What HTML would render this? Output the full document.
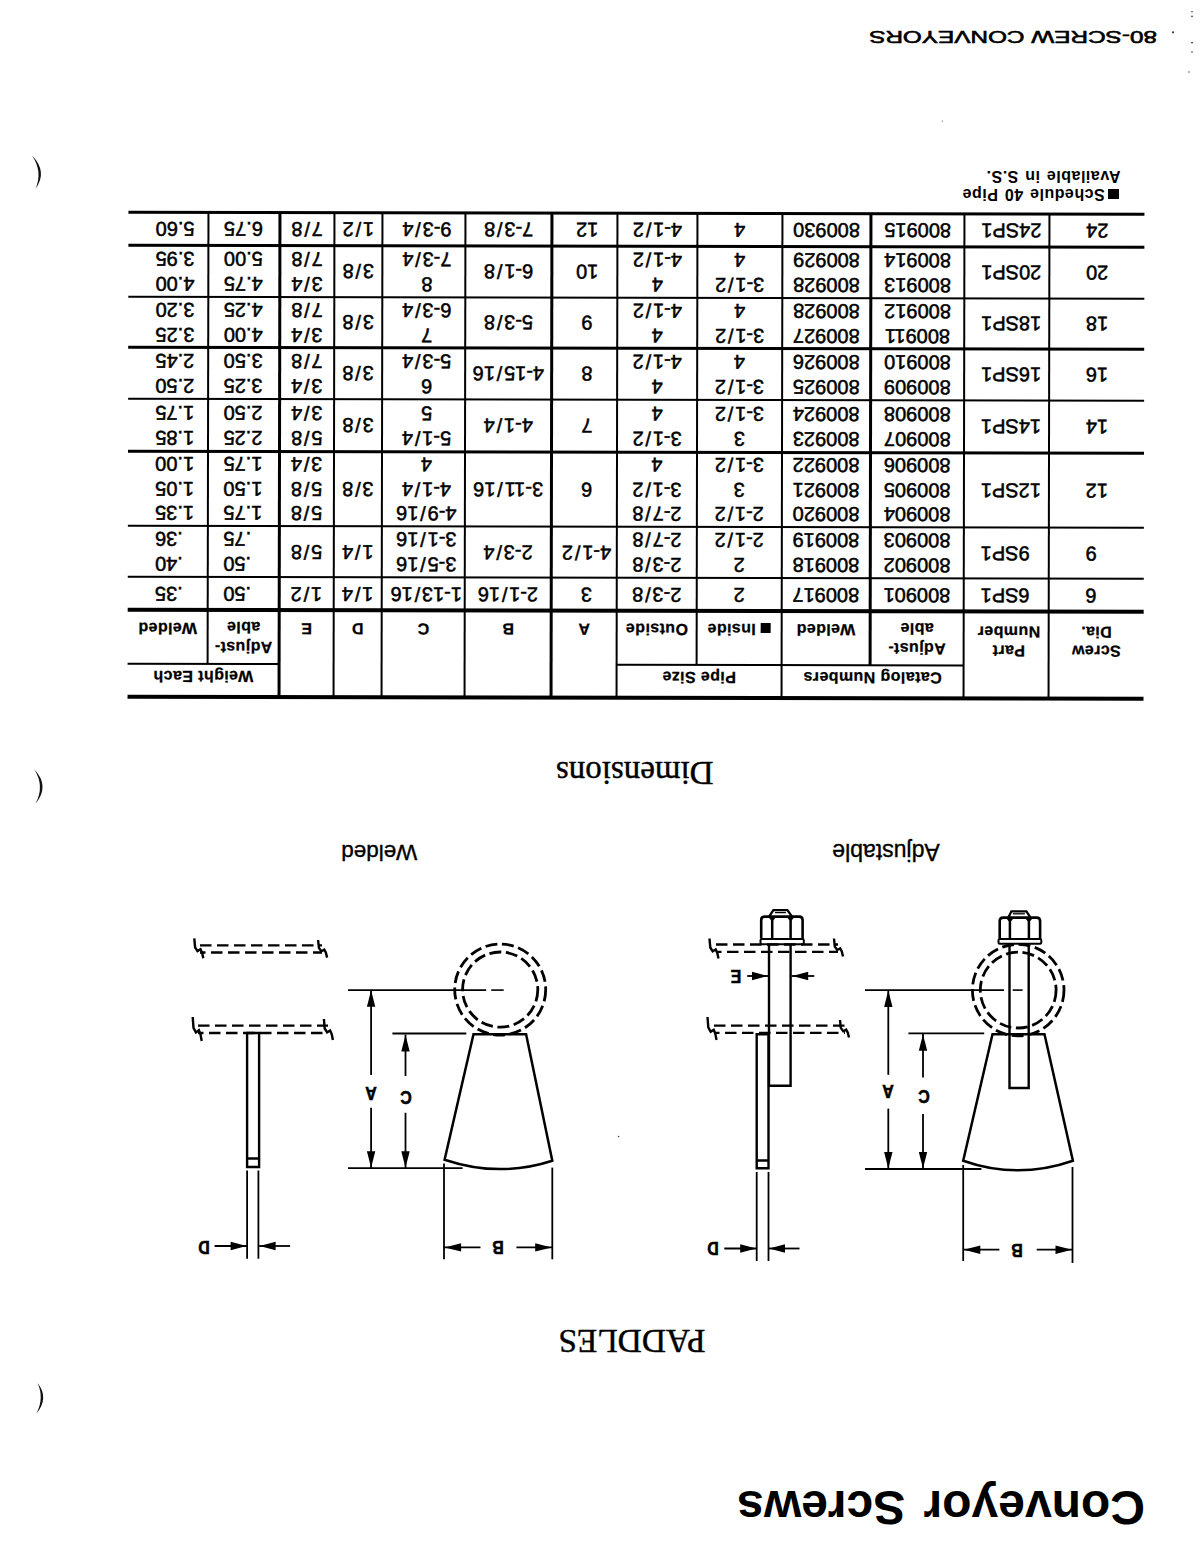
<!DOCTYPE html>
<html><head><meta charset="utf-8"><title>Conveyor Screws</title><style>
*{margin:0;padding:0;box-sizing:border-box}
html,body{width:1204px;height:1561px;overflow:hidden;background:#fff}
#page{position:absolute;left:0;top:0;width:1204px;height:1561px;transform:rotate(180deg);transform-origin:602px 780.5px;background:#fff;color:#000;font-family:"Liberation Sans",sans-serif}
#tbl{position:absolute;left:0;top:0;width:1204px;height:1561px;transform:translateY(1.2px) rotate(0.11deg);transform-origin:568px 1104px}
.ln{position:absolute;background:#000}
.c{position:absolute;display:flex;align-items:center;justify-content:center;text-align:center}
.c.d{font-size:20px;line-height:24.5px;-webkit-text-stroke:0.5px #000}
.c.h{font-weight:bold;font-size:16px;line-height:19.5px;letter-spacing:0.4px;-webkit-text-stroke:0.25px #000}
.c.hg{align-items:flex-start;padding-top:11px}
.c.hs{align-items:flex-start;padding-top:38px}
.c.hc{align-items:flex-start;padding-top:26px}
.c.hc2{align-items:flex-start;padding-top:7.5px}
.sq{display:inline-block;width:10px;height:10px;background:#000;margin-right:5px;vertical-align:-1px}
.t{position:absolute;white-space:nowrap}
.sb{font-weight:bold}
.se{font-family:"Liberation Serif",serif}
.sr{font-weight:normal;-webkit-text-stroke:0.35px #000}
.note{letter-spacing:0.5px;word-spacing:1.5px}
.sq2{display:inline-block;width:11px;height:10.5px;background:#000;margin-right:3.5px;vertical-align:-0.5px}
.foot{transform:scaleX(1.52);transform-origin:0 0;-webkit-text-stroke:0.55px #000}
#drw{position:absolute;left:0;top:0}
.sl{font-weight:normal;margin:0 1.8px}
.thk{-webkit-text-stroke:0.4px #000}
.dl{transform:scaleX(0.86);-webkit-text-stroke:0.6px #000}
</style></head>
<body><div id="page">
<div id="tbl"><div class="ln" style="left:60.0px;top:860.20px;width:1016.3px;height:3.4px"></div>
<div class="ln" style="left:240.1px;top:893.80px;width:346.8px;height:2.2px"></div>
<div class="ln" style="left:924.5px;top:893.80px;width:151.8px;height:2.2px"></div>
<div class="ln" style="left:60.0px;top:947.45px;width:1016.3px;height:3.7px"></div>
<div class="ln" style="left:60.0px;top:980.95px;width:1016.3px;height:2.3px"></div>
<div class="ln" style="left:60.0px;top:1031.85px;width:1016.3px;height:2.3px"></div>
<div class="ln" style="left:60.0px;top:1106.45px;width:1016.3px;height:2.3px"></div>
<div class="ln" style="left:60.0px;top:1159.15px;width:1016.3px;height:2.3px"></div>
<div class="ln" style="left:60.0px;top:1210.35px;width:1016.3px;height:2.3px"></div>
<div class="ln" style="left:60.0px;top:1260.85px;width:1016.3px;height:2.3px"></div>
<div class="ln" style="left:60.0px;top:1312.45px;width:1016.3px;height:2.3px"></div>
<div class="ln" style="left:60.0px;top:1345.00px;width:1016.3px;height:3.4px"></div>
<div class="ln" style="left:153.65px;top:861.9px;width:2.3px;height:484.8px"></div>
<div class="ln" style="left:238.95px;top:861.9px;width:2.3px;height:484.8px"></div>
<div class="ln" style="left:421.15px;top:861.9px;width:2.3px;height:484.8px"></div>
<div class="ln" style="left:585.75px;top:861.9px;width:2.3px;height:484.8px"></div>
<div class="ln" style="left:651.45px;top:861.9px;width:2.3px;height:484.8px"></div>
<div class="ln" style="left:737.85px;top:861.9px;width:2.3px;height:484.8px"></div>
<div class="ln" style="left:820.85px;top:861.9px;width:2.3px;height:484.8px"></div>
<div class="ln" style="left:869.05px;top:861.9px;width:2.3px;height:484.8px"></div>
<div class="ln" style="left:923.35px;top:861.9px;width:2.3px;height:484.8px"></div>
<div class="ln" style="left:332.35px;top:894.9px;width:2.3px;height:451.8px"></div>
<div class="ln" style="left:505.85px;top:894.9px;width:2.3px;height:451.8px"></div>
<div class="ln" style="left:994.85px;top:894.9px;width:2.3px;height:451.8px"></div>
<div class="c h hg" style="left:240.1px;top:861.9px;width:182.2px;height:33.0px;"><span>Catalog Numbers</span></div>
<div class="c h hg" style="left:422.3px;top:861.9px;width:164.6px;height:33.0px;"><span>Pipe Size</span></div>
<div class="c h hg" style="left:924.5px;top:861.9px;width:151.8px;height:33.0px;"><span>Weight Each</span></div>
<div class="c h hs" style="left:60.0px;top:861.9px;width:94.8px;height:87.4px;"><span>Screw<br>Dia.</span></div>
<div class="c h hs" style="left:154.8px;top:861.9px;width:85.3px;height:87.4px;padding-right:5px"><span>Part<br>Number</span></div>
<div class="c h hc2" style="left:240.1px;top:894.9px;width:93.4px;height:54.4px;"><span>Adjust-<br>able</span></div>
<div class="c h hc" style="left:333.5px;top:894.9px;width:88.8px;height:54.4px;"><span>Welded</span></div>
<div class="c h hc" style="left:422.3px;top:894.9px;width:84.7px;height:54.4px;"><span><i class="sq"></i>Inside</span></div>
<div class="c h hc" style="left:507.0px;top:894.9px;width:79.9px;height:54.4px;"><span>Outside</span></div>
<div class="c h hc" style="left:586.9px;top:894.9px;width:65.7px;height:54.4px;"><span>A</span></div>
<div class="c h hc" style="left:652.6px;top:894.9px;width:86.4px;height:54.4px;"><span>B</span></div>
<div class="c h hc" style="left:739.0px;top:894.9px;width:83.0px;height:54.4px;"><span>C</span></div>
<div class="c h hc" style="left:822.0px;top:894.9px;width:48.2px;height:54.4px;"><span>D</span></div>
<div class="c h hc" style="left:870.2px;top:894.9px;width:54.3px;height:54.4px;"><span>E</span></div>
<div class="c h hc2" style="left:924.5px;top:894.9px;width:71.5px;height:54.4px;"><span>Adjust-<br>able</span></div>
<div class="c h hc" style="left:996.0px;top:894.9px;width:80.3px;height:54.4px;"><span>Welded</span></div>
<div class="c d" style="left:60.0px;top:949.3px;width:94.8px;height:32.8px;justify-content:flex-end;padding-right:36.5px"><span>6</span></div>
<div class="c d" style="left:154.8px;top:949.3px;width:85.3px;height:32.8px;justify-content:flex-end;padding-right:17px"><span>6SP1</span></div>
<div class="c d" style="left:240.1px;top:949.3px;width:93.4px;height:32.8px;"><span>800901</span></div>
<div class="c d" style="left:333.5px;top:949.3px;width:88.8px;height:32.8px;"><span>800917</span></div>
<div class="c d" style="left:422.3px;top:949.3px;width:84.7px;height:32.8px;"><span>2</span></div>
<div class="c d" style="left:507.0px;top:949.3px;width:79.9px;height:32.8px;"><span>2-3<b class="sl">/</b>8</span></div>
<div class="c d" style="left:586.9px;top:949.3px;width:65.7px;height:32.8px;padding-right:5px"><span>3</span></div>
<div class="c d" style="left:652.6px;top:949.3px;width:86.4px;height:32.8px;"><span>2-1<b class="sl">/</b>16</span></div>
<div class="c d" style="left:739.0px;top:949.3px;width:83.0px;height:32.8px;padding-right:6px"><span>1-13<b class="sl">/</b>16</span></div>
<div class="c d" style="left:822.0px;top:949.3px;width:48.2px;height:32.8px;"><span>1<b class="sl">/</b>4</span></div>
<div class="c d" style="left:870.2px;top:949.3px;width:54.3px;height:32.8px;"><span>1<b class="sl">/</b>2</span></div>
<div class="c d" style="left:924.5px;top:949.3px;width:71.5px;height:32.8px;justify-content:flex-end;padding-right:15.5px"><span>.50</span></div>
<div class="c d" style="left:996.0px;top:949.3px;width:80.3px;height:32.8px;justify-content:flex-end;padding-right:27.5px"><span>.35</span></div>
<div class="c d" style="left:60.0px;top:982.1px;width:94.8px;height:50.9px;justify-content:flex-end;padding-right:36.5px"><span>9</span></div>
<div class="c d" style="left:154.8px;top:982.1px;width:85.3px;height:50.9px;justify-content:flex-end;padding-right:17px"><span>9SP1</span></div>
<div class="c d" style="left:240.1px;top:982.1px;width:93.4px;height:50.9px;"><span>800902<br>800903</span></div>
<div class="c d" style="left:333.5px;top:982.1px;width:88.8px;height:50.9px;"><span>800918<br>800919</span></div>
<div class="c d" style="left:422.3px;top:982.1px;width:84.7px;height:50.9px;"><span>2<br>2-1<b class="sl">/</b>2</span></div>
<div class="c d" style="left:507.0px;top:982.1px;width:79.9px;height:50.9px;"><span>2-3<b class="sl">/</b>8<br>2-7<b class="sl">/</b>8</span></div>
<div class="c d" style="left:586.9px;top:982.1px;width:65.7px;height:50.9px;padding-right:5px"><span>4-1<b class="sl">/</b>2</span></div>
<div class="c d" style="left:652.6px;top:982.1px;width:86.4px;height:50.9px;"><span>2-3<b class="sl">/</b>4</span></div>
<div class="c d" style="left:739.0px;top:982.1px;width:83.0px;height:50.9px;padding-right:6px"><span>3-5<b class="sl">/</b>16<br>3-1<b class="sl">/</b>16</span></div>
<div class="c d" style="left:822.0px;top:982.1px;width:48.2px;height:50.9px;"><span>1<b class="sl">/</b>4</span></div>
<div class="c d" style="left:870.2px;top:982.1px;width:54.3px;height:50.9px;"><span>5<b class="sl">/</b>8</span></div>
<div class="c d" style="left:924.5px;top:982.1px;width:71.5px;height:50.9px;justify-content:flex-end;padding-right:15.5px"><span>.50<br>.75</span></div>
<div class="c d" style="left:996.0px;top:982.1px;width:80.3px;height:50.9px;justify-content:flex-end;padding-right:27.5px"><span>.40<br>.36</span></div>
<div class="c d" style="left:60.0px;top:1033.0px;width:94.8px;height:74.6px;justify-content:flex-end;padding-right:36.5px"><span>12</span></div>
<div class="c d" style="left:154.8px;top:1033.0px;width:85.3px;height:74.6px;justify-content:flex-end;padding-right:17px"><span>12SP1</span></div>
<div class="c d" style="left:240.1px;top:1033.0px;width:93.4px;height:74.6px;"><span>800904<br>800905<br>800906</span></div>
<div class="c d" style="left:333.5px;top:1033.0px;width:88.8px;height:74.6px;"><span>800920<br>800921<br>800922</span></div>
<div class="c d" style="left:422.3px;top:1033.0px;width:84.7px;height:74.6px;"><span>2-1<b class="sl">/</b>2<br>3<br>3-1<b class="sl">/</b>2</span></div>
<div class="c d" style="left:507.0px;top:1033.0px;width:79.9px;height:74.6px;"><span>2-7<b class="sl">/</b>8<br>3-1<b class="sl">/</b>2<br>4</span></div>
<div class="c d" style="left:586.9px;top:1033.0px;width:65.7px;height:74.6px;padding-right:5px"><span>6</span></div>
<div class="c d" style="left:652.6px;top:1033.0px;width:86.4px;height:74.6px;"><span>3-11<b class="sl">/</b>16</span></div>
<div class="c d" style="left:739.0px;top:1033.0px;width:83.0px;height:74.6px;padding-right:6px"><span>4-9<b class="sl">/</b>16<br>4-1<b class="sl">/</b>4<br>4</span></div>
<div class="c d" style="left:822.0px;top:1033.0px;width:48.2px;height:74.6px;"><span>3<b class="sl">/</b>8</span></div>
<div class="c d" style="left:870.2px;top:1033.0px;width:54.3px;height:74.6px;"><span>5<b class="sl">/</b>8<br>5<b class="sl">/</b>8<br>3<b class="sl">/</b>4</span></div>
<div class="c d" style="left:924.5px;top:1033.0px;width:71.5px;height:74.6px;justify-content:flex-end;padding-right:15.5px"><span>1.75<br>1.50<br>1.75</span></div>
<div class="c d" style="left:996.0px;top:1033.0px;width:80.3px;height:74.6px;justify-content:flex-end;padding-right:27.5px"><span>1.35<br>1.05<br>1.00</span></div>
<div class="c d" style="left:60.0px;top:1107.6px;width:94.8px;height:52.7px;justify-content:flex-end;padding-right:36.5px"><span>14</span></div>
<div class="c d" style="left:154.8px;top:1107.6px;width:85.3px;height:52.7px;justify-content:flex-end;padding-right:17px"><span>14SP1</span></div>
<div class="c d" style="left:240.1px;top:1107.6px;width:93.4px;height:52.7px;"><span>800907<br>800908</span></div>
<div class="c d" style="left:333.5px;top:1107.6px;width:88.8px;height:52.7px;"><span>800923<br>800924</span></div>
<div class="c d" style="left:422.3px;top:1107.6px;width:84.7px;height:52.7px;"><span>3<br>3-1<b class="sl">/</b>2</span></div>
<div class="c d" style="left:507.0px;top:1107.6px;width:79.9px;height:52.7px;"><span>3-1<b class="sl">/</b>2<br>4</span></div>
<div class="c d" style="left:586.9px;top:1107.6px;width:65.7px;height:52.7px;padding-right:5px"><span>7</span></div>
<div class="c d" style="left:652.6px;top:1107.6px;width:86.4px;height:52.7px;"><span>4-1<b class="sl">/</b>4</span></div>
<div class="c d" style="left:739.0px;top:1107.6px;width:83.0px;height:52.7px;padding-right:6px"><span>5-1<b class="sl">/</b>4<br>5</span></div>
<div class="c d" style="left:822.0px;top:1107.6px;width:48.2px;height:52.7px;"><span>3<b class="sl">/</b>8</span></div>
<div class="c d" style="left:870.2px;top:1107.6px;width:54.3px;height:52.7px;"><span>5<b class="sl">/</b>8<br>3<b class="sl">/</b>4</span></div>
<div class="c d" style="left:924.5px;top:1107.6px;width:71.5px;height:52.7px;justify-content:flex-end;padding-right:15.5px"><span>2.25<br>2.50</span></div>
<div class="c d" style="left:996.0px;top:1107.6px;width:80.3px;height:52.7px;justify-content:flex-end;padding-right:27.5px"><span>1.85<br>1.75</span></div>
<div class="c d" style="left:60.0px;top:1160.3px;width:94.8px;height:51.2px;justify-content:flex-end;padding-right:36.5px"><span>16</span></div>
<div class="c d" style="left:154.8px;top:1160.3px;width:85.3px;height:51.2px;justify-content:flex-end;padding-right:17px"><span>16SP1</span></div>
<div class="c d" style="left:240.1px;top:1160.3px;width:93.4px;height:51.2px;"><span>800909<br>800910</span></div>
<div class="c d" style="left:333.5px;top:1160.3px;width:88.8px;height:51.2px;"><span>800925<br>800926</span></div>
<div class="c d" style="left:422.3px;top:1160.3px;width:84.7px;height:51.2px;"><span>3-1<b class="sl">/</b>2<br>4</span></div>
<div class="c d" style="left:507.0px;top:1160.3px;width:79.9px;height:51.2px;"><span>4<br>4-1<b class="sl">/</b>2</span></div>
<div class="c d" style="left:586.9px;top:1160.3px;width:65.7px;height:51.2px;padding-right:5px"><span>8</span></div>
<div class="c d" style="left:652.6px;top:1160.3px;width:86.4px;height:51.2px;"><span>4-15<b class="sl">/</b>16</span></div>
<div class="c d" style="left:739.0px;top:1160.3px;width:83.0px;height:51.2px;padding-right:6px"><span>6<br>5-3<b class="sl">/</b>4</span></div>
<div class="c d" style="left:822.0px;top:1160.3px;width:48.2px;height:51.2px;"><span>3<b class="sl">/</b>8</span></div>
<div class="c d" style="left:870.2px;top:1160.3px;width:54.3px;height:51.2px;"><span>3<b class="sl">/</b>4<br>7<b class="sl">/</b>8</span></div>
<div class="c d" style="left:924.5px;top:1160.3px;width:71.5px;height:51.2px;justify-content:flex-end;padding-right:15.5px"><span>3.25<br>3.50</span></div>
<div class="c d" style="left:996.0px;top:1160.3px;width:80.3px;height:51.2px;justify-content:flex-end;padding-right:27.5px"><span>2.50<br>2.45</span></div>
<div class="c d" style="left:60.0px;top:1211.5px;width:94.8px;height:50.5px;justify-content:flex-end;padding-right:36.5px"><span>18</span></div>
<div class="c d" style="left:154.8px;top:1211.5px;width:85.3px;height:50.5px;justify-content:flex-end;padding-right:17px"><span>18SP1</span></div>
<div class="c d" style="left:240.1px;top:1211.5px;width:93.4px;height:50.5px;"><span>800911<br>800912</span></div>
<div class="c d" style="left:333.5px;top:1211.5px;width:88.8px;height:50.5px;"><span>800927<br>800928</span></div>
<div class="c d" style="left:422.3px;top:1211.5px;width:84.7px;height:50.5px;"><span>3-1<b class="sl">/</b>2<br>4</span></div>
<div class="c d" style="left:507.0px;top:1211.5px;width:79.9px;height:50.5px;"><span>4<br>4-1<b class="sl">/</b>2</span></div>
<div class="c d" style="left:586.9px;top:1211.5px;width:65.7px;height:50.5px;padding-right:5px"><span>9</span></div>
<div class="c d" style="left:652.6px;top:1211.5px;width:86.4px;height:50.5px;"><span>5-3<b class="sl">/</b>8</span></div>
<div class="c d" style="left:739.0px;top:1211.5px;width:83.0px;height:50.5px;padding-right:6px"><span>7<br>6-3<b class="sl">/</b>4</span></div>
<div class="c d" style="left:822.0px;top:1211.5px;width:48.2px;height:50.5px;"><span>3<b class="sl">/</b>8</span></div>
<div class="c d" style="left:870.2px;top:1211.5px;width:54.3px;height:50.5px;"><span>3<b class="sl">/</b>4<br>7<b class="sl">/</b>8</span></div>
<div class="c d" style="left:924.5px;top:1211.5px;width:71.5px;height:50.5px;justify-content:flex-end;padding-right:15.5px"><span>4.00<br>4.25</span></div>
<div class="c d" style="left:996.0px;top:1211.5px;width:80.3px;height:50.5px;justify-content:flex-end;padding-right:27.5px"><span>3.25<br>3.20</span></div>
<div class="c d" style="left:60.0px;top:1262.0px;width:94.8px;height:51.6px;justify-content:flex-end;padding-right:36.5px"><span>20</span></div>
<div class="c d" style="left:154.8px;top:1262.0px;width:85.3px;height:51.6px;justify-content:flex-end;padding-right:17px"><span>20SP1</span></div>
<div class="c d" style="left:240.1px;top:1262.0px;width:93.4px;height:51.6px;"><span>800913<br>800914</span></div>
<div class="c d" style="left:333.5px;top:1262.0px;width:88.8px;height:51.6px;"><span>800928<br>800929</span></div>
<div class="c d" style="left:422.3px;top:1262.0px;width:84.7px;height:51.6px;"><span>3-1<b class="sl">/</b>2<br>4</span></div>
<div class="c d" style="left:507.0px;top:1262.0px;width:79.9px;height:51.6px;"><span>4<br>4-1<b class="sl">/</b>2</span></div>
<div class="c d" style="left:586.9px;top:1262.0px;width:65.7px;height:51.6px;padding-right:5px"><span>10</span></div>
<div class="c d" style="left:652.6px;top:1262.0px;width:86.4px;height:51.6px;"><span>6-1<b class="sl">/</b>8</span></div>
<div class="c d" style="left:739.0px;top:1262.0px;width:83.0px;height:51.6px;padding-right:6px"><span>8<br>7-3<b class="sl">/</b>4</span></div>
<div class="c d" style="left:822.0px;top:1262.0px;width:48.2px;height:51.6px;"><span>3<b class="sl">/</b>8</span></div>
<div class="c d" style="left:870.2px;top:1262.0px;width:54.3px;height:51.6px;"><span>3<b class="sl">/</b>4<br>7<b class="sl">/</b>8</span></div>
<div class="c d" style="left:924.5px;top:1262.0px;width:71.5px;height:51.6px;justify-content:flex-end;padding-right:15.5px"><span>4.75<br>5.00</span></div>
<div class="c d" style="left:996.0px;top:1262.0px;width:80.3px;height:51.6px;justify-content:flex-end;padding-right:27.5px"><span>4.00<br>3.95</span></div>
<div class="c d" style="left:60.0px;top:1313.6px;width:94.8px;height:33.1px;justify-content:flex-end;padding-right:36.5px"><span>24</span></div>
<div class="c d" style="left:154.8px;top:1313.6px;width:85.3px;height:33.1px;justify-content:flex-end;padding-right:17px"><span>24SP1</span></div>
<div class="c d" style="left:240.1px;top:1313.6px;width:93.4px;height:33.1px;"><span>800915</span></div>
<div class="c d" style="left:333.5px;top:1313.6px;width:88.8px;height:33.1px;"><span>800930</span></div>
<div class="c d" style="left:422.3px;top:1313.6px;width:84.7px;height:33.1px;"><span>4</span></div>
<div class="c d" style="left:507.0px;top:1313.6px;width:79.9px;height:33.1px;"><span>4-1<b class="sl">/</b>2</span></div>
<div class="c d" style="left:586.9px;top:1313.6px;width:65.7px;height:33.1px;padding-right:5px"><span>12</span></div>
<div class="c d" style="left:652.6px;top:1313.6px;width:86.4px;height:33.1px;"><span>7-3<b class="sl">/</b>8</span></div>
<div class="c d" style="left:739.0px;top:1313.6px;width:83.0px;height:33.1px;padding-right:6px"><span>9-3<b class="sl">/</b>4</span></div>
<div class="c d" style="left:822.0px;top:1313.6px;width:48.2px;height:33.1px;"><span>1<b class="sl">/</b>2</span></div>
<div class="c d" style="left:870.2px;top:1313.6px;width:54.3px;height:33.1px;"><span>7<b class="sl">/</b>8</span></div>
<div class="c d" style="left:924.5px;top:1313.6px;width:71.5px;height:33.1px;justify-content:flex-end;padding-right:15.5px"><span>6.75</span></div>
<div class="c d" style="left:996.0px;top:1313.6px;width:80.3px;height:33.1px;justify-content:flex-end;padding-right:27.5px"><span>5.60</span></div></div><div class="t sb" style="left:59.0px;top:30.3px;width:600px;font-size:48px;line-height:48px;text-align:left;word-spacing:5px;">Conveyor Screws</div><div class="t se thk" style="left:372.1px;top:203.4px;width:400px;font-size:33.4px;line-height:33.4px;text-align:center;">PADDLES</div><div class="t sr" style="left:118.0px;top:697.5px;width:400px;font-size:23px;line-height:23px;text-align:center;">Adjustable</div><div class="t sr" style="left:624.8px;top:698.3px;width:400px;font-size:22.5px;line-height:22.5px;text-align:center;">Welded</div><div class="t se thk" style="left:369.3px;top:772.4px;width:400px;font-size:33px;line-height:33px;text-align:center;">Dimensions</div><div class="t sb note" style="left:84.8px;top:1358.5px;width:300px;font-size:16px;line-height:16px;text-align:left;"><i class="sq2"></i>Schedule 40 Pipe</div><div class="t sb note" style="left:83.4px;top:1376.9px;width:300px;font-size:16px;line-height:16px;text-align:left;">Available in S.S.</div><div class="t foot" style="left:47.2px;top:1516.9px;width:300px;font-size:16px;line-height:16px;text-align:left;">80-SCREW CONVEYORS</div><svg id="drw" width="1204" height="1561" viewBox="0 0 1204 1561" stroke="#000"><g transform="rotate(180 602.0 780.5)"><circle cx="1018.2" cy="990.1" r="45.8" fill="none" stroke-width="2.8" stroke-dasharray="12 4.6"/>
<circle cx="1018.2" cy="990.1" r="37.9" fill="none" stroke-width="2.8" stroke-dasharray="12 4.6"/>
<path d="M1009.5,944.8 V1088 H1028.7 V944.8" fill="none" stroke-width="2.4"/>
<rect x="998.5" y="939.0" width="42.799999999999955" height="4.699999999999977" fill="none" stroke-width="2" rx="1.2"/>
<path d="M999.7,938.4 V921.1 Q999.7,917.6 1003.2,917.6 H1036.6 Q1040.1,917.6 1040.1,921.1 V938.4" fill="none" stroke-width="2.6"/>
<path d="M1009.9,938.4 V917.4 M1028.9,938.4 V917.4" fill="none" stroke-width="2.5"/>
<path d="M1005.9,917.9 H1013.9 L1009.9,922.4 Z" fill="#000" stroke="none"/>
<path d="M1024.9,917.9 H1032.9 L1028.9,922.4 Z" fill="#000" stroke="none"/>
<path d="M1008.4,917.4 L1011.4,911.3000000000001 H1026.4 L1030.4,917.4" fill="none" stroke-width="2.3"/>
<path d="M1012.9,913.8000000000001 H1024.9" fill="none" stroke-width="1.3"/>
<path d="M992.5,1034.3 H1044.5 L1072.9,1160.7 Q1017.5,1180 963.2,1160.7 Z" fill="none" stroke-width="2.5"/>
<line x1="865.0" y1="990.1" x2="1004.0" y2="990.1" stroke-width="1.6" />
<line x1="1012.7" y1="990.1" x2="1022.6" y2="990.1" stroke-width="1.6" />
<line x1="908.4" y1="1033.3" x2="984.2" y2="1033.3" stroke-width="1.8" />
<line x1="865.0" y1="1169.0" x2="981.4" y2="1169.0" stroke-width="1.8" />
<line x1="888.3" y1="990.1" x2="888.3" y2="1074.8" stroke-width="1.8" />
<line x1="888.3" y1="1108.6" x2="888.3" y2="1169.0" stroke-width="1.8" />
<polygon points="888.3,990.6 892.5,1007.1 884.1,1007.1" fill="#000" stroke="none"/>
<polygon points="888.3,1168.5 884.1,1152.0 892.5,1152.0" fill="#000" stroke="none"/>
<line x1="923.0" y1="1033.8" x2="923.0" y2="1077.6" stroke-width="1.8" />
<line x1="923.0" y1="1114.0" x2="923.0" y2="1169.0" stroke-width="1.8" />
<polygon points="923.0,1034.3 927.2,1050.8 918.8,1050.8" fill="#000" stroke="none"/>
<polygon points="923.0,1168.5 918.8,1152.0 927.2,1152.0" fill="#000" stroke="none"/>
<line x1="963.2" y1="1165.0" x2="963.2" y2="1261.0" stroke-width="1.8" />
<line x1="1072.5" y1="1167.0" x2="1072.5" y2="1263.0" stroke-width="1.8" />
<line x1="963.2" y1="1249.7" x2="999.4" y2="1249.7" stroke-width="1.8" />
<line x1="1036.7" y1="1249.7" x2="1072.5" y2="1249.7" stroke-width="1.8" />
<polygon points="963.8,1249.7 980.3,1245.5 980.3,1253.9" fill="#000" stroke="none"/>
<polygon points="1072.0,1249.7 1055.5,1253.9 1055.5,1245.5" fill="#000" stroke="none"/>
<rect x="760.5" y="939.0" width="43.299999999999955" height="5.199999999999977" fill="none" stroke-width="2" rx="1.2"/>
<path d="M761.2,938.4 V920.1 Q761.2,916.6 764.7,916.6 H799.0999999999999 Q802.5999999999999,916.6 802.5999999999999,920.1 V938.4" fill="none" stroke-width="2.6"/>
<path d="M772.2,938.4 V916.4 M790.6,938.4 V916.4" fill="none" stroke-width="2.5"/>
<path d="M768.2,916.9 H776.2 L772.2,921.4 Z" fill="#000" stroke="none"/>
<path d="M786.6,916.9 H794.6 L790.6,921.4 Z" fill="#000" stroke="none"/>
<path d="M769.2,916.4 L773.4,910.1 H787.4 L791.9,916.4" fill="none" stroke-width="2.3"/>
<path d="M774.9,912.6 H785.9" fill="none" stroke-width="1.3"/>
<path d="M769,944.5 V1085.7 H790.6 V944.5" fill="none" stroke-width="2.4"/>
<path d="M768.5,1034.2 H756.7 V1168.2 H768.5 V1034.2 M756.7,1160.5 H768.5" fill="none" stroke-width="2.4"/>
<line x1="716.0" y1="944.5" x2="838.0" y2="944.5" stroke-width="2.3" stroke-dasharray="11.5 5.5" stroke-dashoffset="0"/>
<line x1="716.0" y1="951.8" x2="838.0" y2="951.8" stroke-width="2.3" stroke-dasharray="11.5 5.5" stroke-dashoffset="6"/>
<polyline points="709.5,938.5 710.3,947.5 712.7,951.3 715.7,949.5 717.3,952.9 718.5,958.5" fill="none" stroke-width="2.4"/>
<polyline points="834.0,938.5 834.8,946.6 837.2,950.0 840.2,948.4 841.8,951.5 843.0,956.5" fill="none" stroke-width="2.4"/>
<line x1="714.0" y1="1025.6" x2="845.0" y2="1025.6" stroke-width="2.3" stroke-dasharray="11.5 5.5" stroke-dashoffset="0"/>
<line x1="714.0" y1="1032.9" x2="845.0" y2="1032.9" stroke-width="2.3" stroke-dasharray="11.5 5.5" stroke-dashoffset="6"/>
<polyline points="707.5,1017.0 708.3,1027.3 710.7,1031.7 713.7,1029.7 715.3,1033.6 716.5,1040.0" fill="none" stroke-width="2.4"/>
<polyline points="840.0,1020.0 840.8,1027.9 843.2,1031.2 846.2,1029.6 847.8,1032.6 849.0,1037.5" fill="none" stroke-width="2.4"/>
<line x1="747.2" y1="976.0" x2="768.4" y2="976.0" stroke-width="1.8" />
<line x1="791.7" y1="976.0" x2="814.3" y2="976.0" stroke-width="1.8" />
<polygon points="768.0,976.0 752.0,980.2 752.0,971.8" fill="#000" stroke="none"/>
<polygon points="792.2,976.0 808.2,971.8 808.2,980.2" fill="#000" stroke="none"/>
<line x1="756.7" y1="1171.9" x2="756.7" y2="1261.0" stroke-width="1.8" />
<line x1="768.5" y1="1171.9" x2="768.5" y2="1261.0" stroke-width="1.8" />
<line x1="724.3" y1="1248.5" x2="756.7" y2="1248.5" stroke-width="1.8" />
<line x1="768.5" y1="1248.5" x2="799.5" y2="1248.5" stroke-width="1.8" />
<polygon points="756.2,1248.5 740.2,1252.7 740.2,1244.3" fill="#000" stroke="none"/>
<polygon points="769.0,1248.5 785.0,1244.3 785.0,1252.7" fill="#000" stroke="none"/>
<circle cx="500.2" cy="989.6" r="45.5" fill="none" stroke-width="2.8" stroke-dasharray="12 4.6"/>
<circle cx="500.2" cy="989.6" r="37.6" fill="none" stroke-width="2.8" stroke-dasharray="12 4.6"/>
<path d="M473.5,1034.3 H526.1 L552.3,1160.7 Q499,1178 444.6,1159.7 Z" fill="none" stroke-width="2.5"/>
<line x1="348.0" y1="990.1" x2="486.2" y2="990.1" stroke-width="1.6" />
<line x1="491.2" y1="990.1" x2="503.7" y2="990.1" stroke-width="1.6" />
<line x1="392.4" y1="1033.5" x2="466.3" y2="1033.5" stroke-width="1.8" />
<line x1="348.0" y1="1168.2" x2="462.6" y2="1168.2" stroke-width="1.8" />
<line x1="371.1" y1="990.0" x2="371.1" y2="1075.0" stroke-width="1.8" />
<line x1="371.1" y1="1107.8" x2="371.1" y2="1168.2" stroke-width="1.8" />
<polygon points="371.1,990.3 375.3,1006.8 366.9,1006.8" fill="#000" stroke="none"/>
<polygon points="371.1,1167.7 366.9,1151.2 375.3,1151.2" fill="#000" stroke="none"/>
<line x1="405.5" y1="1034.6" x2="405.5" y2="1076.0" stroke-width="1.8" />
<line x1="405.5" y1="1112.8" x2="405.5" y2="1168.2" stroke-width="1.8" />
<polygon points="405.5,1034.9 409.7,1051.4 401.3,1051.4" fill="#000" stroke="none"/>
<polygon points="405.5,1167.7 401.3,1151.2 409.7,1151.2" fill="#000" stroke="none"/>
<line x1="444.0" y1="1163.6" x2="444.0" y2="1259.3" stroke-width="1.8" />
<line x1="552.3" y1="1167.6" x2="552.3" y2="1259.3" stroke-width="1.8" />
<line x1="444.0" y1="1247.4" x2="480.5" y2="1247.4" stroke-width="1.8" />
<line x1="516.4" y1="1247.4" x2="552.3" y2="1247.4" stroke-width="1.8" />
<polygon points="444.6,1247.4 461.1,1243.2 461.1,1251.6" fill="#000" stroke="none"/>
<polygon points="551.7,1247.4 535.2,1251.6 535.2,1243.2" fill="#000" stroke="none"/>
<line x1="200.0" y1="945.4" x2="322.0" y2="945.4" stroke-width="2.3" stroke-dasharray="11.5 5.5" stroke-dashoffset="0"/>
<line x1="200.0" y1="952.5" x2="322.0" y2="952.5" stroke-width="2.3" stroke-dasharray="11.5 5.5" stroke-dashoffset="6"/>
<polyline points="194.3,938.3 195.1,947.3 197.5,951.1 200.5,949.3 202.1,952.7 203.3,958.3" fill="none" stroke-width="2.4"/>
<polyline points="318.1,940.0 318.9,947.9 321.3,951.3 324.3,949.7 325.9,952.7 327.1,957.6" fill="none" stroke-width="2.4"/>
<line x1="198.0" y1="1025.6" x2="328.0" y2="1025.6" stroke-width="2.3" stroke-dasharray="11.5 5.5" stroke-dashoffset="0"/>
<line x1="198.0" y1="1033.0" x2="328.0" y2="1033.0" stroke-width="2.3" stroke-dasharray="11.5 5.5" stroke-dashoffset="6"/>
<polyline points="192.7,1017.0 193.5,1027.8 195.9,1032.4 198.9,1030.2 200.5,1034.3 201.7,1041.0" fill="none" stroke-width="2.4"/>
<polyline points="323.9,1019.0 324.7,1028.5 327.1,1032.4 330.1,1030.5 331.7,1034.1 332.9,1040.0" fill="none" stroke-width="2.4"/>
<path d="M247.1,1033 V1167 H259.1 V1033 Z M247.1,1158.5 H259.1" fill="none" stroke-width="2.4"/>
<line x1="247.1" y1="1170.5" x2="247.1" y2="1258.7" stroke-width="1.8" />
<line x1="258.4" y1="1170.5" x2="258.4" y2="1258.7" stroke-width="1.8" />
<line x1="214.6" y1="1246.0" x2="247.1" y2="1246.0" stroke-width="1.8" />
<line x1="259.1" y1="1246.0" x2="290.1" y2="1246.0" stroke-width="1.8" />
<polygon points="246.6,1246.0 230.6,1250.2 230.6,1241.8" fill="#000" stroke="none"/>
<polygon points="259.6,1246.0 275.6,1241.8 275.6,1250.2" fill="#000" stroke="none"/>
<path d="M32,155.6 Q48,172 35.5,188.8 Q43,172 32,155.6 Z" fill="#111" stroke="none"/>
<path d="M34.2,769.3 Q50.2,786 35.5,803.8 Q45,786 34.2,769.3 Z" fill="#111" stroke="none"/>
<path d="M37.5,1382.9 Q49.6,1398 36.2,1413.8 Q44.6,1398 37.5,1382.9 Z" fill="#111" stroke="none"/>
<circle cx="1173" cy="32.3" r="1.1" fill="#333" stroke="none"/>
<circle cx="1192" cy="11.8" r="0.8" fill="#333" stroke="none"/>
<circle cx="1192" cy="16.4" r="0.8" fill="#333" stroke="none"/>
<circle cx="1192" cy="42.6" r="0.9" fill="#333" stroke="none"/>
<circle cx="1192" cy="52" r="0.8" fill="#333" stroke="none"/>
<circle cx="942.3" cy="121" r="0.6" fill="#333" stroke="none"/>
<circle cx="1189" cy="72" r="0.7" fill="#333" stroke="none"/>
<circle cx="618.6" cy="1136.5" r="0.7" fill="#333" stroke="none"/></g></svg><div class="t sb dl" style="left:295.7px;top:461.3px;width:40px;font-size:18.5px;line-height:18.5px;text-align:center;">A</div><div class="t sb dl" style="left:260.0px;top:455.9px;width:40px;font-size:18.5px;line-height:18.5px;text-align:center;">C</div><div class="t sb dl" style="left:167.3px;top:301.7px;width:40px;font-size:18.5px;line-height:18.5px;text-align:center;">B</div><div class="t sb dl" style="left:447.8px;top:575.5px;width:40px;font-size:18.5px;line-height:18.5px;text-align:center;">E</div><div class="t sb dl" style="left:471.1px;top:303.5px;width:40px;font-size:18.5px;line-height:18.5px;text-align:center;">D</div><div class="t sb dl" style="left:812.5px;top:459.4px;width:40px;font-size:18.5px;line-height:18.5px;text-align:center;">A</div><div class="t sb dl" style="left:777.7px;top:455.4px;width:40px;font-size:18.5px;line-height:18.5px;text-align:center;">C</div><div class="t sb dl" style="left:686.0px;top:304.9px;width:40px;font-size:18.5px;line-height:18.5px;text-align:center;">B</div><div class="t sb dl" style="left:980.0px;top:304.9px;width:40px;font-size:18.5px;line-height:18.5px;text-align:center;">D</div>
</div></body></html>
